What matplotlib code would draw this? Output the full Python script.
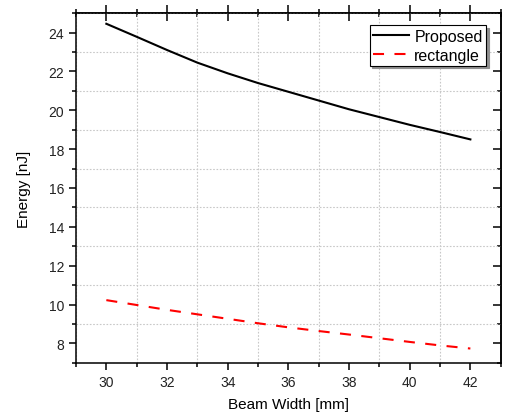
import numpy as np
from matplotlib import pyplot as plt
from matplotlib.ticker import MultipleLocator

plt.rcParams["font.family"] = ["Liberation Sans", "DejaVu Sans"]

beam_width = [30, 31, 32, 33, 34, 35, 36, 37, 38, 39, 40, 41, 42]
energy_proposed = [24.45, 23.78, 23.1, 22.45, 21.9, 21.4, 20.95, 20.5, 20.05, 19.65, 19.25, 18.88, 18.5]
energy_rectangle = [10.23, 9.98, 9.73, 9.5, 9.27, 9.04, 8.83, 8.64, 8.46, 8.27, 8.08, 7.9, 7.74]


def main():
    fig = plt.figure(figsize=(5.05, 4.14), dpi=100)
    ax = fig.add_axes([0.1505, 0.121, 0.841, 0.845])

    ax.plot(beam_width, energy_proposed, color="black", lw=1.5, label="Proposed")
    ax.plot(beam_width, energy_rectangle, color="red", lw=1.5,
            linestyle=(0, (5.3, 5.0)), label="rectangle")

    ax.set_xlim(29, 43)
    ax.set_ylim(7, 25)
    ax.xaxis.set_major_locator(MultipleLocator(2))
    ax.xaxis.set_minor_locator(MultipleLocator(1))
    ax.yaxis.set_major_locator(MultipleLocator(2))
    ax.yaxis.set_minor_locator(MultipleLocator(1))

    # grid only on the odd (minor) positions, like the original
    ax.grid(True, which="minor", color="#c8c8c8", linestyle=(0, (1.5, 1.5)), lw=0.8)
    ax.set_axisbelow(True)

    for s in ax.spines.values():
        s.set_linewidth(1.1)

    ax.tick_params(which="both", direction="out", width=1.1, labelsize=10,
                   labelcolor="#222222", top=False, right=False)
    ax.tick_params(which="major", length=5)
    ax.tick_params(which="minor", length=3)

    # top ticks crossing the spine, right ticks pointing inward
    sec = ax.secondary_xaxis("top")
    sec.xaxis.set_major_locator(MultipleLocator(2))
    sec.xaxis.set_minor_locator(MultipleLocator(1))
    sec.tick_params(which="major", direction="inout", length=12, width=1.1, labeltop=False)
    sec.tick_params(which="minor", direction="inout", length=6, width=1.1)
    sec.spines["top"].set_linewidth(1.1)

    secy = ax.secondary_yaxis("right")
    secy.yaxis.set_major_locator(MultipleLocator(2))
    secy.yaxis.set_minor_locator(MultipleLocator(1))
    secy.tick_params(which="major", direction="in", length=6, width=1.1, labelright=False)
    secy.tick_params(which="minor", direction="in", length=3, width=1.1)
    secy.spines["right"].set_linewidth(1.1)

    ax.set_xlabel("Beam Width [mm]", fontsize=11, labelpad=6)
    ax.set_ylabel("Energy [nJ]", fontsize=11, labelpad=12.5)

    leg = ax.legend(loc="upper right", bbox_to_anchor=(0.965, 0.965), fontsize=11.5,
                    fancybox=False, framealpha=1, edgecolor="black",
                    shadow={"color": "#909090", "alpha": 1},
                    handlelength=2.3, borderpad=0.2, labelspacing=0.25,
                    handletextpad=0.3, borderaxespad=0)
    leg.get_frame().set_linewidth(0.8)

    fig.savefig("out.png", dpi=100)


if __name__ == "__main__":
    main()
